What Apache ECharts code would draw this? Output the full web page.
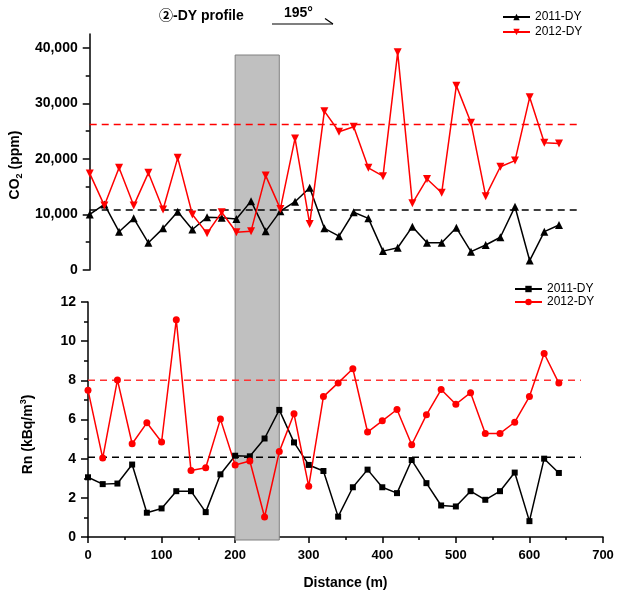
<!DOCTYPE html>
<html>
<head>
<meta charset="utf-8">
<script src="https://cdn.jsdelivr.net/npm/echarts@6/dist/echarts.min.js"></script>
<style>
html,body{margin:0;padding:0;background:#fff;}
#chart{width:618px;height:591px;}
</style>
</head>
<body>
<div id="chart"></div>
<script>
// ---- data ----
const distance = [0,20,40,60,80,100,120,140,160,180,200,220,240,260,280,300,320,340,360,380,400,420,440,460,480,500,520,540,560,580,600,620,640];
const co2_2011 = [10000,11800,6900,9300,4900,7500,10500,7300,9500,9400,9200,12400,7000,10600,12300,14800,7500,6100,10400,9300,3400,4000,7800,4900,4900,7600,3300,4500,5900,11400,1700,6900,8100];
const co2_2012 = [17400,11600,18400,11600,17500,10900,20200,10000,6600,10400,6800,7000,17000,11000,23700,8300,28600,24900,25800,18400,16900,39200,12000,16400,13900,33200,26500,13300,18600,19700,31100,22900,22800];
const rn_2011 = [3.05,2.70,2.73,3.70,1.24,1.46,2.34,2.34,1.27,3.20,4.15,4.12,5.03,6.49,4.83,3.68,3.37,1.04,2.54,3.44,2.54,2.24,3.93,2.75,1.61,1.56,2.34,1.90,2.34,3.29,0.81,4.00,3.27];
const rn_2012 = [7.50,4.03,8.02,4.76,5.83,4.85,11.10,3.40,3.54,6.02,3.68,3.88,1.02,4.36,6.29,2.59,7.17,7.87,8.59,5.36,5.93,6.51,4.71,6.24,7.53,6.78,7.37,5.29,5.29,5.86,7.17,9.37,7.86];
const co2_2011_mean = 10800;
const co2_2012_mean = 26200;
const rn_2011_mean = 4.07;
const rn_2012_mean = 8.0;
const meanLineExtent = [0, 670];
const bandRange = [200, 260];
const co2Ticks = [0,10000,20000,30000,40000];
const co2MinorTicks = [5000,15000,25000,35000];
const seriesNames = ['2011-DY','2012-DY'];

const pair = (xs, ys) => xs.map((x,i)=>[x, ys[i]]);
const meanLine = v => meanLineExtent.map(x=>[x, v]);

const FONT = "'Liberation Sans', Arial, 'Noto Sans CJK SC', sans-serif";
const chart = echarts.init(document.getElementById('chart'), null, {renderer:'canvas'});

const yLabelStyle = {fontFamily: FONT, fontSize: 14, fontWeight: 'bold', color: '#000'};
const xLabelStyle = {fontFamily: FONT, fontSize: 13, fontWeight: 'bold', color: '#000'};
const yLine = {show:true, lineStyle:{color:'#000', width:1.5}};

const option = {
  backgroundColor: '#fff',
  animation: false,
  textStyle: {fontFamily: FONT},
  grid: [
    {left: 88, right: 15, top: 34, bottom: 321},
    {left: 88, right: 15, top: 302, bottom: 51},
    {left: 88, right: 15, top: 55, bottom: 51}
  ],
  xAxis: [
    {gridIndex:0, type:'value', min:0, max:700, show:false},
    {gridIndex:1, type:'value', min:0, max:700, interval:100,
     axisLine:{show:true, onZero:false, lineStyle:{color:'#000', width:1.5}},
     axisTick:{show:true, length:6, inside:false, lineStyle:{color:'#000', width:1.5}},
     minorTick:{show:true, splitNumber:2, length:3, lineStyle:{color:'#000', width:1.5}},
     splitLine:{show:false},
     axisLabel:Object.assign({margin:12}, xLabelStyle),
     name:'Distance (m)', nameLocation:'middle', nameGap:39,
     nameTextStyle:{fontFamily:FONT, fontSize:14, fontWeight:'bold', color:'#000'}},
    {gridIndex:2, type:'value', min:0, max:700, show:false}
  ],
  yAxis: [
    {gridIndex:0, type:'value', position:'left', min:0, max:42500,
     axisLine:yLine,
     axisTick:{show:true, length:7, customValues:co2Ticks, lineStyle:{color:'#000', width:1.5}},
     splitLine:{show:false},
     axisLabel:Object.assign({margin:12, customValues:co2Ticks,
       formatter: v => v.toLocaleString('en-US')}, yLabelStyle),
     name:'{b|CO}{sub|2}{b| (ppm)}', nameLocation:'middle', nameGap:63,
     nameTextStyle:{padding:[0,26,0,0], rich:{
       b:{fontFamily:FONT, fontSize:14, fontWeight:'bold', color:'#000', lineHeight:18},
       sub:{fontFamily:FONT, fontSize:9, fontWeight:'bold', color:'#000', verticalAlign:'bottom', lineHeight:18}
     }}},
    {gridIndex:0, type:'value', position:'left', offset:0, min:0, max:42500,
     axisLine:{show:false},
     axisTick:{show:true, length:4, customValues:co2MinorTicks, lineStyle:{color:'#000', width:1.5}},
     axisLabel:{show:false}, splitLine:{show:false}},
    {gridIndex:1, type:'value', position:'left', min:0, max:12, interval:2,
     axisLine:yLine,
     axisTick:{show:true, length:7, lineStyle:{color:'#000', width:1.5}},
     minorTick:{show:true, splitNumber:2, length:4, lineStyle:{color:'#000', width:1.5}},
     splitLine:{show:false},
     axisLabel:Object.assign({margin:12}, yLabelStyle),
     name:'{b|Rn (kBq/m}{sup|3}{b|)}', nameLocation:'middle', nameGap:51,
     nameTextStyle:{padding:[0,30,0,0], rich:{
       b:{fontFamily:FONT, fontSize:14, fontWeight:'bold', color:'#000', lineHeight:18},
       sup:{fontFamily:FONT, fontSize:9, fontWeight:'bold', color:'#000', verticalAlign:'top', lineHeight:18}
     }}},
    {gridIndex:2, type:'value', min:0, max:1, show:false}
  ],
  legend: [
    {orient:'vertical', left:497, top:6, itemWidth:27, itemHeight:8, itemGap:3,
     data: seriesNames,
     textStyle:{fontFamily:FONT, fontSize:12, color:'#000', lineHeight:12}},
    {orient:'vertical', left:509, top:278, itemWidth:27, itemHeight:8, itemGap:1,
     data: seriesNames.map(n=>'Rn '+n),
     formatter: n => n.replace('Rn ',''),
     textStyle:{fontFamily:FONT, fontSize:12, color:'#000', lineHeight:12}}
  ],
  graphic: [
    {type:'text', left:159, top:9, style:{text:'②-DY profile', fontFamily:FONT, fontSize:14, fontWeight:'bold', fill:'#000'}},
    {type:'text', left:284, top:6, style:{text:'195°', fontFamily:FONT, fontSize:14, fontWeight:'bold', fill:'#000'}},
    {type:'polyline', shape:{points:[[272,24],[333,24]]}, style:{stroke:'#000', lineWidth:1.2}},
    {type:'polyline', shape:{points:[[325,18.5],[333,24]]}, style:{stroke:'#000', lineWidth:1.2}}
  ],
  series: [
    {type:'line', xAxisIndex:2, yAxisIndex:3, data:[], silent:true, z:1,
     markArea:{silent:true, itemStyle:{color:'#c0c0c0', borderColor:'#808080', borderWidth:1},
       data:[[{coord:[bandRange[0],0]},{coord:[bandRange[1],1]}]]}},
    {type:'line', xAxisIndex:0, yAxisIndex:0, data:meanLine(co2_2011_mean), symbol:'none', z:2,
     lineStyle:{color:'#000', width:1.5, type:[7,5]}, silent:true},
    {type:'line', xAxisIndex:0, yAxisIndex:0, data:meanLine(co2_2012_mean), symbol:'none', z:2,
     lineStyle:{color:'#ff0000', width:1.5, type:[7,5]}, silent:true},
    {type:'line', xAxisIndex:1, yAxisIndex:2, data:meanLine(rn_2011_mean), symbol:'none', z:2,
     lineStyle:{color:'#000', width:1.5, type:[7,5]}, silent:true},
    {type:'line', xAxisIndex:1, yAxisIndex:2, data:meanLine(rn_2012_mean), symbol:'none', z:2,
     lineStyle:{color:'#ff3333', width:1.5, type:[7,5]}, silent:true},
    {name:'2011-DY', type:'line', xAxisIndex:0, yAxisIndex:0, data:pair(distance, co2_2011), z:3,
     symbol:'triangle', symbolSize:8, itemStyle:{color:'#000'}, lineStyle:{color:'#000', width:1.5}},
    {name:'2012-DY', type:'line', xAxisIndex:0, yAxisIndex:0, data:pair(distance, co2_2012), z:3,
     symbol:'triangle', symbolRotate:180, symbolSize:8, itemStyle:{color:'#ff0000'}, lineStyle:{color:'#ff0000', width:1.5}},
    {name:'Rn 2011-DY', type:'line', xAxisIndex:1, yAxisIndex:2, data:pair(distance, rn_2011), z:3,
     symbol:'rect', symbolSize:6, itemStyle:{color:'#000'}, lineStyle:{color:'#000', width:1.5}},
    {name:'Rn 2012-DY', type:'line', xAxisIndex:1, yAxisIndex:2, data:pair(distance, rn_2012), z:3,
     symbol:'circle', symbolSize:7, itemStyle:{color:'#ff0000'}, lineStyle:{color:'#ff0000', width:1.5}}
  ]
};
chart.setOption(option);
</script>
</body>
</html>
